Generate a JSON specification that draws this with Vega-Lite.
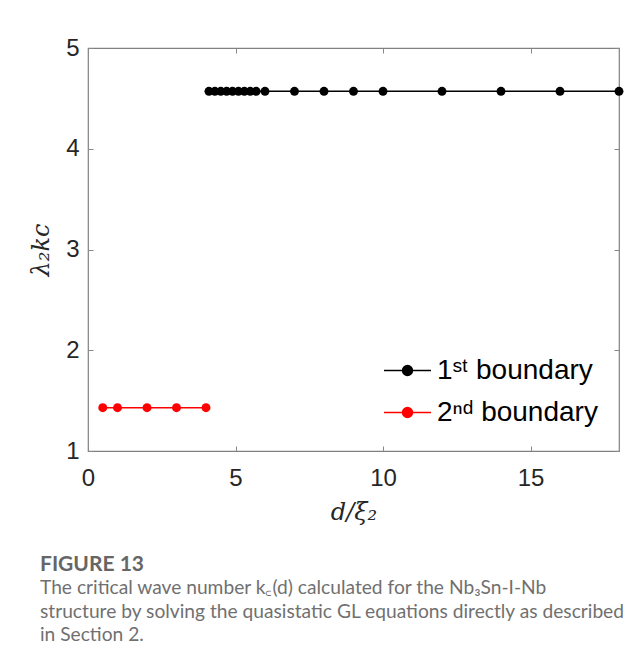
{
  "$schema": "https://vega.github.io/schema/vega-lite/v6.json",
  "width": 531,
  "height": 403,
  "autosize": {"type": "none"},
  "padding": {"left": 88, "top": 48, "right": 24, "bottom": 219},
  "background": "white",
  "title": {
    "text": "FIGURE 13",
    "subtitle": [
      "The critical wave number k꜀(d) calculated for the Nb₃Sn-I-Nb",
      "structure by solving the quasistatic GL equations directly as described",
      "in Section 2."
    ],
    "orient": "bottom",
    "anchor": "start",
    "frame": "group",
    "dx": -48,
    "offset": 30,
    "font": "Lato",
    "fontSize": 21,
    "fontWeight": "bold",
    "color": "#666666",
    "subtitleFont": "Lato",
    "subtitleFontSize": 19.2,
    "subtitleColor": "#707070",
    "subtitleLineHeight": 23.5,
    "subtitlePadding": 4
  },
  "data": {
    "values": [
      {"x": 4.1, "y": 4.57, "series": "1ˢᵗ boundary"},
      {"x": 4.3, "y": 4.57, "series": "1ˢᵗ boundary"},
      {"x": 4.5, "y": 4.57, "series": "1ˢᵗ boundary"},
      {"x": 4.7, "y": 4.57, "series": "1ˢᵗ boundary"},
      {"x": 4.9, "y": 4.57, "series": "1ˢᵗ boundary"},
      {"x": 5.1, "y": 4.57, "series": "1ˢᵗ boundary"},
      {"x": 5.3, "y": 4.57, "series": "1ˢᵗ boundary"},
      {"x": 5.5, "y": 4.57, "series": "1ˢᵗ boundary"},
      {"x": 5.7, "y": 4.57, "series": "1ˢᵗ boundary"},
      {"x": 6.0, "y": 4.57, "series": "1ˢᵗ boundary"},
      {"x": 7, "y": 4.57, "series": "1ˢᵗ boundary"},
      {"x": 8, "y": 4.57, "series": "1ˢᵗ boundary"},
      {"x": 9, "y": 4.57, "series": "1ˢᵗ boundary"},
      {"x": 10, "y": 4.57, "series": "1ˢᵗ boundary"},
      {"x": 12, "y": 4.57, "series": "1ˢᵗ boundary"},
      {"x": 14, "y": 4.57, "series": "1ˢᵗ boundary"},
      {"x": 16, "y": 4.57, "series": "1ˢᵗ boundary"},
      {"x": 18, "y": 4.57, "series": "1ˢᵗ boundary"},
      {"x": 0.5, "y": 1.43, "series": "2ⁿᵈ boundary"},
      {"x": 1, "y": 1.43, "series": "2ⁿᵈ boundary"},
      {"x": 2, "y": 1.43, "series": "2ⁿᵈ boundary"},
      {"x": 3, "y": 1.43, "series": "2ⁿᵈ boundary"},
      {"x": 4, "y": 1.43, "series": "2ⁿᵈ boundary"}
    ]
  },
  "layer": [
    {
      "mark": {"type": "point", "opacity": 0},
      "encoding": {
        "x": {"field": "x", "type": "quantitative", "scale": {"domain": [0, 18], "nice": false, "zero": false},
          "axis": {"orient": "top", "labels": false, "title": null, "values": [0, 5, 10, 15], "grid": false, "tickSize": -5, "domain": false, "tickColor": "#888888"}},
        "y": {"field": "y", "type": "quantitative", "scale": {"domain": [1, 5], "nice": false, "zero": false},
          "axis": {"orient": "right", "labels": false, "title": null, "values": [1, 2, 3, 4, 5], "grid": false, "tickSize": -5, "domain": false, "tickColor": "#888888"}}
      }
    },
    {
      "mark": {"type": "line", "strokeWidth": 1.5, "point": {"filled": true, "size": 80, "opacity": 1}},
      "encoding": {
        "x": {"field": "x", "type": "quantitative", "scale": {"domain": [0, 18], "nice": false, "zero": false},
          "axis": {"orient": "bottom", "title": "d/ξ₂", "values": [0, 5, 10, 15], "grid": false, "tickSize": -5, "domain": false, "tickColor": "#888888",
            "labelFlush": false,
            "labelFont": "Liberation Sans", "labelFontSize": 24, "labelColor": "#262626", "labelPadding": 20,
            "titleFont": "DejaVu Serif", "titleFontStyle": "italic", "titleFontWeight": "normal", "titleFontSize": 24, "titleColor": "#262626", "titlePadding": 10}},
        "y": {"field": "y", "type": "quantitative", "scale": {"domain": [1, 5], "nice": false, "zero": false},
          "axis": {"orient": "left", "title": "λ₂kc", "values": [1, 2, 3, 4, 5], "grid": false, "tickSize": -5, "domain": false, "tickColor": "#888888",
            "labelFlush": false,
            "labelFont": "Liberation Sans", "labelFontSize": 24, "labelColor": "#262626", "labelPadding": 14,
            "titleFont": "DejaVu Serif", "titleFontStyle": "italic", "titleFontWeight": "normal", "titleFontSize": 24, "titleColor": "#262626", "titlePadding": 12}},
        "color": {"field": "series", "type": "nominal",
          "scale": {"domain": ["1ˢᵗ boundary", "2ⁿᵈ boundary"], "range": ["#000000", "#ff0000"]},
          "legend": {
            "title": null, "orient": "none", "legendX": 295, "legendY": 298,
            "symbolType": "M-1,0H1M-0.21,0A0.21,0.21,0,1,1,0.21,0A0.21,0.21,0,1,1,-0.21,0Z",
            "symbolSize": 2209, "symbolStrokeWidth": 1.5,
            "labelFont": "Liberation Sans", "labelFontSize": 28, "labelColor": "#000000", "labelOffset": 5,
            "labelLimit": 400,
            "rowPadding": 3,
            "encode": {"symbols": {"update": {"fill": {"scale": "color", "field": "value"}, "opacity": {"value": 1}}}}
          }}
      }
    }
  ],
  "resolve": {"axis": {"x": "independent", "y": "independent"}},
  "config": {
    "view": {"stroke": "#808080", "strokeWidth": 1.2},
    "axis": {"ticks": true}
  }
}
